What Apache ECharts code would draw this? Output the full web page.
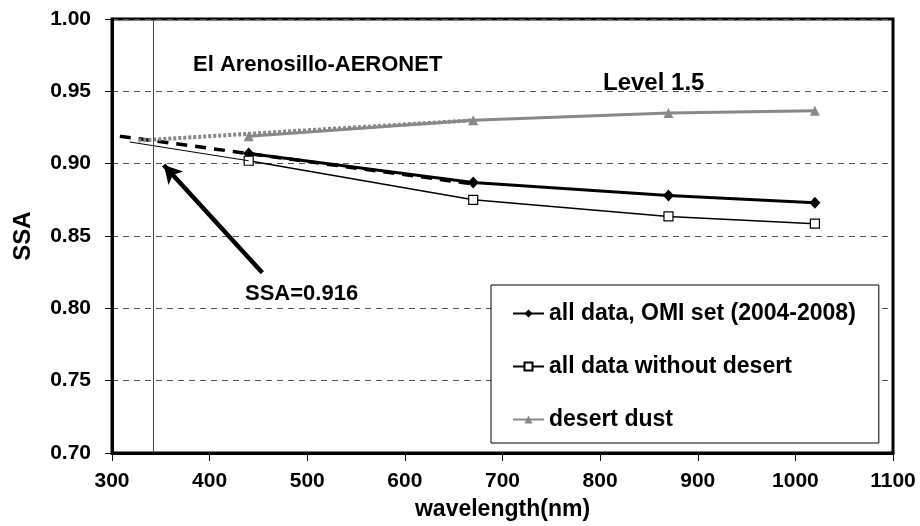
<!DOCTYPE html>
<html>
<head>
<meta charset="utf-8">
<title>SSA vs wavelength</title>
<script src="https://cdn.jsdelivr.net/npm/echarts@6/dist/echarts.min.js"></script>
<style>
  html, body { margin: 0; padding: 0; background: #fff; }
  #chart { width: 920px; height: 526px; }
</style>
</head>
<body>
<div id="chart"></div>
<script>
// Wavelengths (nm) of the AERONET channels
const wavelengths = [440, 670, 870, 1020];

// Single scattering albedo per channel
const ssaAllData = [0.907, 0.887, 0.878, 0.873];
const ssaWithoutDesert = [0.902, 0.875, 0.8635, 0.8585];
const ssaDesertDust = [0.919, 0.930, 0.935, 0.9365];

// Linear extrapolations toward the OMI wavelength ([nm, SSA] end points)
const fitAllData = [[308, 0.919], [670, 0.886]];
const fitWithoutDesert = [[318, 0.915], [440, 0.902]];
const fitDesertDust = [[327, 0.916], [670, 0.930]];

// OMI reference wavelength and the SSA read there
const omiWavelength = 342;
const omiSSA = 0.916;

// Arrow pointing at the extrapolated value ([nm, SSA] tail and head)
const arrowTail = [454, 0.8246];
const arrowHead = [353, 0.8991];

const seriesNames = ['all data, OMI set (2004-2008)', 'all data without desert', 'desert dust'];

const FONT = "'Liberation Sans', Arial, Helvetica, sans-serif";

const pairs = (xs, ys) => xs.map((x, i) => [x, ys[i]]);

const chart = echarts.init(document.getElementById('chart'), null, { renderer: 'canvas' });

chart.setOption({
  animation: false,
  backgroundColor: '#fff',
  textStyle: { fontFamily: FONT },
  grid: {
    left: 112, right: 27, top: 19, bottom: 73,
    show: true, borderColor: '#000', borderWidth: 3, backgroundColor: 'transparent'
  },
  xAxis: {
    type: 'value', min: 300, max: 1100, interval: 100,
    name: 'wavelength(nm)', nameLocation: 'middle', nameGap: 45,
    nameTextStyle: { fontFamily: FONT, fontWeight: 'bold', fontSize: 23, color: '#000' },
    axisLine: { show: true, onZero: false, lineStyle: { color: '#000', width: 3 } },
    axisTick: { show: true, inside: false, length: 8, lineStyle: { color: '#000', width: 1 } },
    axisLabel: {
      fontFamily: FONT, fontWeight: 'bold', fontSize: 21, color: '#000', margin: 18,
      formatter: v => String(v)
    },
    splitLine: { show: false }
  },
  yAxis: {
    type: 'value', min: 0.7, max: 1.0, interval: 0.05,
    name: 'SSA', nameLocation: 'middle', nameGap: 77, nameRotate: 90,
    nameTextStyle: { fontFamily: FONT, fontWeight: 'bold', fontSize: 24, color: '#000' },
    axisLine: { show: true, onZero: false, lineStyle: { color: '#000', width: 3 } },
    axisTick: { show: true, inside: false, length: 7, lineStyle: { color: '#000', width: 1 } },
    axisLabel: {
      fontFamily: FONT, fontWeight: 'bold', fontSize: 21, color: '#000', margin: 21,
      formatter: v => v.toFixed(2)
    },
    splitLine: { show: true, lineStyle: { color: '#555', width: 1, type: [6, 5] } }
  },
  legend: {
    data: seriesNames,
    orient: 'vertical',
    left: 491, top: 285,
    padding: [17, 23, 12, 21],
    itemWidth: 31, itemHeight: 10, itemGap: 30,
    backgroundColor: '#fff',
    borderColor: '#000', borderWidth: 1,
    textStyle: { fontFamily: FONT, fontWeight: 'bold', fontSize: 23, color: '#000', lineHeight: 22 }
  },
  series: [
    {
      name: seriesNames[0], type: 'line', data: pairs(wavelengths, ssaAllData),
      symbol: 'diamond', symbolSize: [11, 12], showSymbol: true,
      lineStyle: { color: '#000', width: 3 }, itemStyle: { color: '#000' }, z: 3
    },
    {
      name: seriesNames[1], type: 'line', data: pairs(wavelengths, ssaWithoutDesert),
      symbol: 'rect', symbolSize: 9, showSymbol: true,
      lineStyle: { color: '#000', width: 1.5 },
      itemStyle: { color: '#fff', borderColor: '#000', borderWidth: 1.2 }, z: 3
    },
    {
      name: seriesNames[2], type: 'line', data: pairs(wavelengths, ssaDesertDust),
      symbol: 'triangle', symbolSize: 10, showSymbol: true,
      lineStyle: { color: '#888', width: 3 }, itemStyle: { color: '#888' }, z: 3
    },
    {
      name: 'fit all data', type: 'line', data: fitAllData, showSymbol: false, symbol: 'none',
      lineStyle: { color: '#000', width: 3.5, type: [11, 8] }, z: 4, silent: true
    },
    {
      name: 'fit without desert', type: 'line', data: fitWithoutDesert, showSymbol: false, symbol: 'none',
      lineStyle: { color: '#000', width: 1 }, z: 4, silent: true
    },
    {
      name: 'fit desert dust', type: 'line', data: fitDesertDust, showSymbol: false, symbol: 'none',
      lineStyle: { color: '#888', width: 4, type: [3, 2] }, z: 4, silent: true
    },
    {
      name: 'omi marks', type: 'line', data: [], silent: true, z: 5,
      markLine: {
        silent: true, animation: false,
        label: { show: false },
        emphasis: { disabled: true },
        data: [
          [
            { coord: [omiWavelength, 0.7], symbol: 'none', lineStyle: { color: '#444', width: 1, type: 'solid' } },
            { coord: [omiWavelength, 1.0], symbol: 'none' }
          ],
          [
            { coord: arrowTail, symbol: 'none', lineStyle: { color: '#000', width: 4.5, type: 'solid' } },
            { coord: arrowHead, symbol: 'arrow', symbolSize: [15, 18] }
          ]
        ]
      }
    }
  ],
  graphic: [
    {
      type: 'text', x: 193, y: 65,
      style: { text: 'El Arenosillo-AERONET', font: "bold 22px " + FONT, fill: '#000', verticalAlign: 'middle' }
    },
    {
      type: 'text', x: 603, y: 83,
      style: { text: 'Level 1.5', font: "bold 24px " + FONT, fill: '#000', verticalAlign: 'middle' }
    },
    {
      type: 'text', x: 245, y: 294,
      style: { text: 'SSA=' + omiSSA.toFixed(3), font: "bold 22px " + FONT, fill: '#000', verticalAlign: 'middle' }
    }
  ]
});
</script>
</body>
</html>
